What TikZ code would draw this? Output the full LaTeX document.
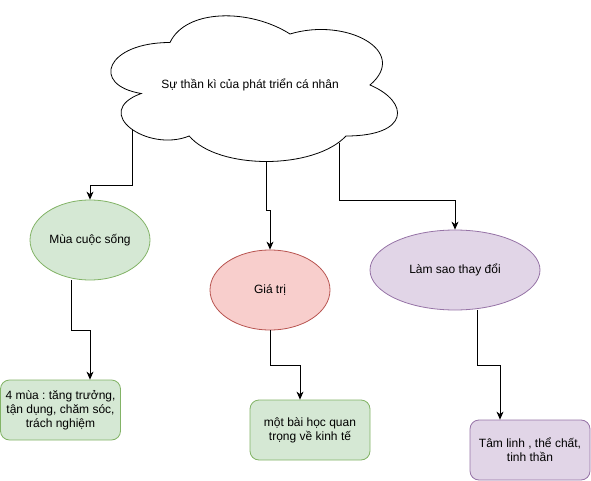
\documentclass[tikz,border=0pt]{standalone}
\usepackage{fontspec}
\setmainfont{Liberation Sans}
\usetikzlibrary{shapes.geometric,arrows.meta}
\frenchspacing

\definecolor{grfill}{HTML}{D5E8D4}
\definecolor{grline}{HTML}{82B366}
\definecolor{rdfill}{HTML}{F8CECC}
\definecolor{rdline}{HTML}{B85450}
\definecolor{pufill}{HTML}{E1D5E7}
\definecolor{puline}{HTML}{9673A6}

\begin{document}
\begin{tikzpicture}[x=1pt,y=-1pt,
  every node/.style={font=\fontsize{12}{14}\selectfont, align=center},
  blob/.style={ellipse, draw, line width=0.8pt, inner sep=0pt, minimum height=80pt},
  card/.style={rectangle, draw, line width=0.8pt, rounded corners=9pt, inner sep=0pt,
    minimum width=120pt, minimum height=60pt},
  link/.style={line width=0.8pt, black, -{Stealth[length=8pt,width=7pt,inset=2.5pt]}}]

\useasboundingbox (0,0) rectangle (591,481);

% cloud
\begin{scope}[shift={(90pt,0pt)}, x=320pt, y=-170pt]
\draw[line width=0.8pt, fill=white] (0.25,0.25)
  .. controls (0.05,0.25) and (0,0.5) .. (0.16,0.55)
  .. controls (0,0.66) and (0.18,0.9) .. (0.31,0.8)
  .. controls (0.4,1) and (0.7,1) .. (0.8,0.8)
  .. controls (1,0.8) and (1,0.6) .. (0.875,0.5)
  .. controls (1,0.3) and (0.8,0.1) .. (0.625,0.2)
  .. controls (0.5,0.05) and (0.3,0.05) .. (0.25,0.25) -- cycle;
\end{scope}
\node (wonder) at (250,85) {Sự thần kì của phát triển cá nhân};

\coordinate (c1) at (132,129.5);
\coordinate (c2) at (266,161.5);
\coordinate (c3) at (339,143);

\node[blob, minimum width=120pt, fill=grfill, draw=grline] (season) at (90,240) {Mùa cuộc sống};
\node[blob, minimum width=120pt, fill=rdfill, draw=rdline] (value) at (270,290) {Giá trị};
\node[blob, minimum width=170pt, fill=pufill, draw=puline] (change) at (455,270) {Làm sao thay đổi};

\node[card, fill=grfill, draw=grline] (four) at (60.5,410) {4 mùa : tăng trưởng,\\tận dụng, chăm sóc,\\trách nghiệm};
\node[card, fill=grfill, draw=grline] (lesson) at (310,430) {một bài học quan\\trọng về kinh tế};
\node[card, fill=pufill, draw=puline] (spirit) at (530,450) {Tâm linh , thể chất,\\tinh thần};

\draw[link] (c1) -- ++(0,55.5) -| (season.north);
\draw[link] (c2) -- ++(0,48.5) -| (value.north);
\draw[link] (c3) -- ++(0,57) -| (change.north);

\draw[link] ([xshift=-19pt]season.south) -- ++(0,50) -| ([xshift=29.5pt]four.north);
\draw[link] (value.south) -- ++(0,35) -| ([xshift=-10pt]lesson.north);
\draw[link] ([xshift=22pt]change.south) -- ++(0,55) -| ([xshift=-30pt]spirit.north);

\end{tikzpicture}
\end{document}
